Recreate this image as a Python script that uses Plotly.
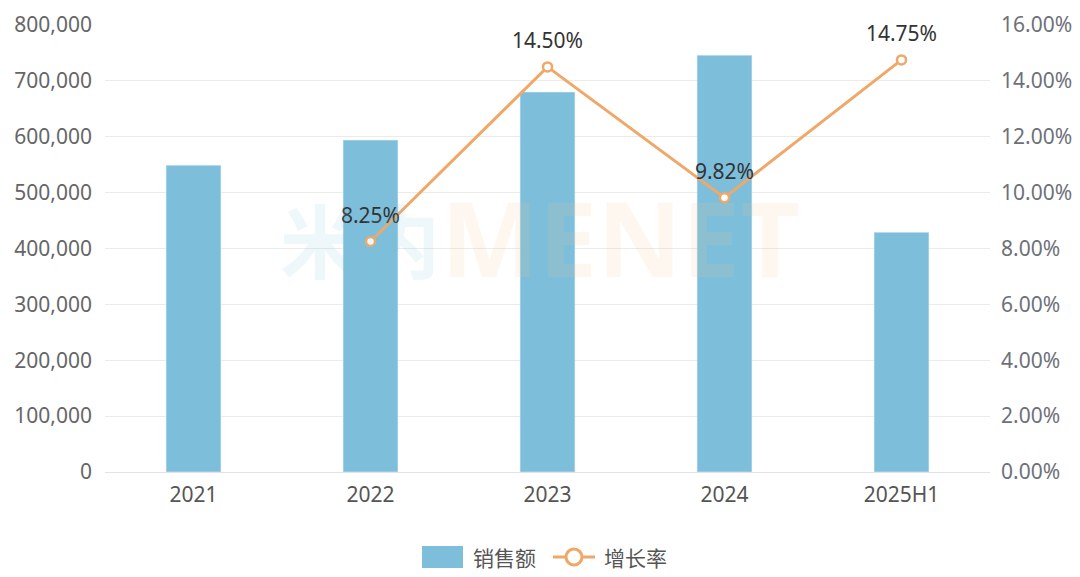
import plotly.graph_objects as go

categories = ["2021", "2022", "2023", "2024", "2025H1"]
sales = [549000, 594000, 680000, 746000, 429000]
growth_x = ["2022", "2023", "2024", "2025H1"]
growth = [8.25, 14.50, 9.82, 14.75]
growth_labels = ["8.25%", "14.50%", "9.82%", "14.75%"]
left_ticks = [0, 100000, 200000, 300000, 400000, 500000, 600000, 700000, 800000]
right_ticks = [0, 2, 4, 6, 8, 10, 12, 14, 16]

BAR_COLOR = "#7dbfdb"
LINE_COLOR = "#f0a868"
font_family = "Noto Sans, Noto Sans CJK SC, sans-serif"

fig = go.Figure()
fig.add_trace(go.Bar(
    x=categories, y=sales, name="销售额",
    marker=dict(color=BAR_COLOR), showlegend=False,
))
fig.add_trace(go.Scatter(
    x=growth_x, y=growth, name="增长率", yaxis="y2",
    mode="lines+markers",
    line=dict(color=LINE_COLOR, width=3),
    marker=dict(symbol="circle", size=9, color="white", line=dict(color=LINE_COLOR, width=2.5)),
    showlegend=False, cliponaxis=False,
))
# data labels (invisible larger marker to space the text like the reference)
fig.add_trace(go.Scatter(
    x=growth_x, y=growth, yaxis="y2", mode="markers+text",
    marker=dict(size=20, color="rgba(0,0,0,0)"),
    text=growth_labels, textposition="top center",
    textfont=dict(size=21, color="#333333", family=font_family),
    showlegend=False, cliponaxis=False, hoverinfo="skip",
))

# page body has an 8px margin; target plot area in screen pixels: x 105..990, y 25..472
OFF = 8
W, H = 1080 - OFF, 577 - OFF
L, T = 105 - OFF, 25 - OFF
pw, ph = 885, 447
R = W - L - pw
B = H - T - ph

def px(x):
    return (x - OFF - L) / pw

def py(y):
    return (T + ph - (y - OFF)) / ph

# watermark
fig.add_annotation(text="<b>米内</b>", x=px(360), y=py(237), xref="paper", yref="paper",
                   xanchor="center", yanchor="middle", showarrow=False,
                   font=dict(size=80, color="rgba(125,191,219,0.13)", family="Noto Sans CJK SC"))
fig.add_annotation(text="<b>MENET</b>", x=px(620), y=py(237), xref="paper", yref="paper",
                   xanchor="center", yanchor="middle", showarrow=False,
                   font=dict(size=104, color="rgba(250,190,140,0.13)", family="Open Sans, sans-serif"))

# custom legend
fig.add_shape(type="rect", xref="paper", yref="paper",
              x0=px(422), x1=px(463), y0=py(568), y1=py(546),
              fillcolor=BAR_COLOR, line=dict(width=0))
fig.add_annotation(text="销售额", x=px(471), y=py(557), xref="paper", yref="paper",
                   xanchor="left", yanchor="middle", showarrow=False,
                   font=dict(size=21, color="#555555", family="Noto Sans CJK SC"))
fig.add_shape(type="line", xref="paper", yref="paper",
              x0=px(553), x1=px(595), y0=py(557), y1=py(557),
              line=dict(color=LINE_COLOR, width=3))
fig.add_shape(type="circle", xref="paper", yref="paper",
              x0=px(566), x1=px(582), y0=py(565), y1=py(549),
              fillcolor="white", line=dict(color=LINE_COLOR, width=3))
fig.add_annotation(text="增长率", x=px(602), y=py(557), xref="paper", yref="paper",
                   xanchor="left", yanchor="middle", showarrow=False,
                   font=dict(size=21, color="#555555", family="Noto Sans CJK SC"))

fig.update_layout(
    width=W, height=H,
    margin=dict(l=L, r=R, t=T, b=B, autoexpand=False),
    paper_bgcolor="white", plot_bgcolor="white",
    bargap=0.69,
    font=dict(family=font_family, size=21, color="#666666"),
    showlegend=False,
    xaxis=dict(
        type="category", showgrid=False, showline=True, linecolor="#e3e3e3", linewidth=1,
        ticks="", tickfont=dict(size=21, color="#555555"), automargin=False,
        ticklabelstandoff=4,
    ),
    yaxis=dict(
        range=[0, 800000], tickvals=left_ticks, tickformat=",d",
        showgrid=True, gridcolor="#ebebeb", gridwidth=1, zeroline=False,
        tickfont=dict(size=21, color="#666666"), ticks="", ticklabelstandoff=12,
        automargin=False,
    ),
    yaxis2=dict(
        range=[0, 16], tickvals=right_ticks, overlaying="y", side="right",
        ticktext=[f"{v:.2f}%" for v in right_ticks],
        tickmode="array", showgrid=False, zeroline=False,
        tickfont=dict(size=21, color="#6e7079"), ticks="", ticklabelstandoff=10,
        automargin=False,
    ),
)

fig.write_html("out.html")
